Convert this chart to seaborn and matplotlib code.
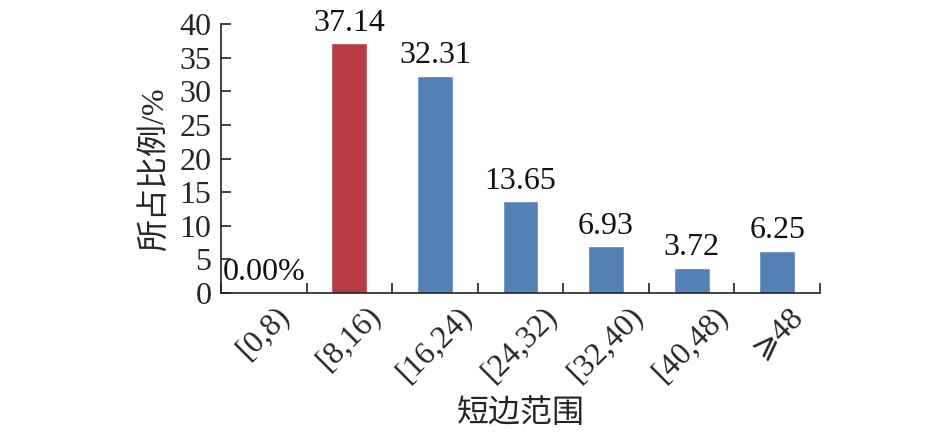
import matplotlib
matplotlib.use("Agg")
import matplotlib.pyplot as plt
import seaborn as sns
import pandas as pd
import numpy as np

categories = ["[0,8)", "[8,16)", "[16,24)", "[24,32)", "[32,40)", "[40,48)", "\u2a7e48"]
values = [0.0, 37.14, 32.31, 13.65, 6.93, 3.72, 6.25]
value_labels = ["0.00%", "37.14", "32.31", "13.65", "6.93", "3.72", "6.25"]
bar_colors = ["#5381B5", "#B93A44", "#5381B5", "#5381B5", "#5381B5", "#5381B5", "#5381B5"]
y_ticks = [0, 5, 10, 15, 20, 25, 30, 35, 40]
x_title = "短边范围"
y_title = "所占比例/%"

sns.set_theme(style="white")
fam = ["Liberation Serif", "DejaVu Serif", "Noto Sans CJK SC", "DejaVu Sans"]
plt.rcParams["font.family"] = fam
FS = 23

df = pd.DataFrame({"cat": categories, "val": values})

fig = plt.figure(figsize=(9.46, 4.38), dpi=100)
ax = fig.add_axes([0.2336, 0.331, 0.8668 - 0.2336, 0.945 - 0.331])

sns.barplot(data=df, x="cat", y="val", hue="cat", palette=bar_colors,
            width=0.42, legend=False, ax=ax, saturation=1)

ax.set_ylim(0, 40)
ax.set_xlim(-0.5, len(categories) - 0.5)
ax.set_yticks(y_ticks)
ax.set_yticklabels([str(t) for t in y_ticks], fontsize=FS, family=fam)

ax.set_xticks(range(len(categories)))
ax.set_xticklabels(categories, fontsize=FS, family=fam, rotation=45,
                   ha="center", va="top")
ax.tick_params(axis="x", which="major", length=0, pad=6)
ax.set_xticks(np.arange(-0.5, len(categories), 1.0), minor=True)
ax.tick_params(axis="x", which="minor", direction="in", length=7, width=1.2, color="#222222", bottom=True)
ax.tick_params(axis="y", direction="in", length=7, width=1.2, color="#222222", pad=7, left=True)

for s in ["top", "right"]:
    ax.spines[s].set_visible(False)
for s in ["left", "bottom"]:
    ax.spines[s].set_color("#222222")
    ax.spines[s].set_linewidth(1.2)

for i, (v, lab) in enumerate(zip(values, value_labels)):
    ax.annotate(lab, (i, v), xytext=(0, 4), textcoords="offset points",
                ha="center", va="bottom", fontsize=FS, family=fam, color="#111111")

ax.set_xlabel(x_title, fontsize=FS, family=fam, labelpad=8)
ax.set_ylabel(y_title, fontsize=FS, family=fam)
ax.yaxis.set_label_coords(-0.085, 0.46)

fig.savefig("out.png", dpi=100)
